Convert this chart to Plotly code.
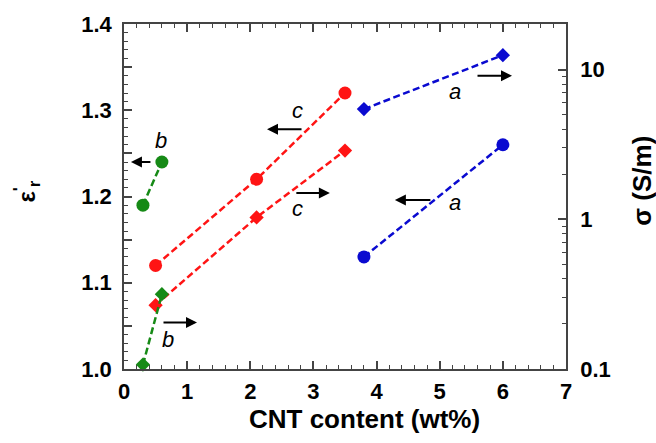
import plotly.graph_objects as go

# ---- data ----
cnt_a = [3.8, 6.0]
eps_a = [1.130, 1.260]
sig_a = [5.45, 12.5]

cnt_c = [0.5, 2.1, 3.5]
eps_c = [1.120, 1.220, 1.320]
sig_c = [0.267, 1.03, 2.88]

cnt_b = [0.3, 0.6]
eps_b = [1.190, 1.240]
sig_b = [0.107, 0.316]

y_ticks = [1.0, 1.05, 1.1, 1.15, 1.2, 1.25, 1.3, 1.35, 1.4]
y_ticklabels = ["1.0", "", "1.1", "", "1.2", "", "1.3", "", "1.4"]
y2_ticks = [0.1, 1, 10]
y2_ticklabels = ["0.1", "1", "10"]
y2_minor = [m * d for d in (0.1, 1) for m in range(2, 10)]

x_title = "CNT content (wt%)"
y_title = "ε<sup>'</sup><sub>r</sub>"
y2_title = "σ (S/m)"

BLUE = "#0a0ad0"
RED = "#ff1414"
GREEN = "#168a16"
AX = "#444444"
FONT = "Liberation Sans, Arial, sans-serif"
DASH = "7px,3.5px"

fig = go.Figure()

def add(x, y, color, symbol, size, yaxis):
    fig.add_trace(go.Scatter(
        x=x, y=y, mode="lines+markers", yaxis=yaxis,
        line=dict(color=color, width=2.5, dash=DASH),
        marker=dict(color=color, symbol=symbol, size=size, line=dict(width=0)),
        showlegend=False, cliponaxis=False))

add(cnt_a, eps_a, BLUE, "circle", 13, "y")
add(cnt_a, sig_a, BLUE, "diamond", 11, "y2")
add(cnt_c, eps_c, RED, "circle", 13, "y")
add(cnt_c, sig_c, RED, "diamond", 11, "y2")
add(cnt_b, eps_b, GREEN, "circle", 13, "y")
add(cnt_b, sig_b, GREEN, "diamond", 11, "y2")

# arrows (head position in data coords, tail offset in px)
arrows = [
    (0.11, 1.240, 21),
    (2.265, 1.278, 36),
    (3.26, 1.204, -35),
    (6.145, 1.340, -36),
    (4.29, 1.196, 37),
    (1.156, 1.054, -35),
]
for hx, hy, ax in arrows:
    fig.add_annotation(x=hx, y=hy, xref="x", yref="y", ax=ax, ay=0,
                       showarrow=True, arrowhead=2, arrowsize=1.1,
                       arrowwidth=2, arrowcolor="black", text="", standoff=0)

labels = [
    (0.586, 1.265, "b"),
    (2.74, 1.2997, "c"),
    (2.74, 1.186, "c"),
    (5.24, 1.322, "a"),
    (5.24, 1.193, "a"),
    (0.70, 1.034, "b"),
]
for lx, ly, t in labels:
    fig.add_annotation(x=lx, y=ly, xref="x", yref="y", text=f"<i>{t}</i>",
                       showarrow=False, font=dict(family=FONT, size=22, color="black"))

# axis titles
fig.add_annotation(x=0.545, y=-0.146, xref="paper", yref="paper", text=x_title,
                   xanchor="center", yanchor="middle",
                   showarrow=False, font=dict(family=FONT, size=26, weight="bold"))
fig.add_annotation(x=-0.219, y=0.515, xref="paper", yref="paper", text=y_title,
                   xanchor="center", yanchor="middle",
                   textangle=-90, showarrow=False,
                   font=dict(family=FONT, size=24, weight="bold"))
fig.add_annotation(x=1.172, y=0.546, xref="paper", yref="paper", text=y2_title,
                   xanchor="center", yanchor="middle",
                   textangle=-90, showarrow=False,
                   font=dict(family=FONT, size=26, weight="bold"))

fig.update_layout(
    width=656, height=443,
    margin=dict(l=124, r=90, t=14, b=74),
    paper_bgcolor="white", plot_bgcolor="white",
    font=dict(family=FONT, color="black"),
    xaxis=dict(
        range=[0, 7], dtick=1, tick0=0, showgrid=False, zeroline=False,
        showline=True, linecolor=AX, linewidth=1.5, mirror="ticks",
        ticks="inside", ticklen=8, tickwidth=1.5, tickcolor=AX,
        minor=dict(dtick=0.2, ticks="inside", ticklen=4, tickcolor=AX, tickwidth=1.2),
        tickfont=dict(family=FONT, size=22, weight="bold"),
        ticklabelstandoff=2,
    ),
    yaxis=dict(
        range=[1.0, 1.4], tickmode="array", tickvals=y_ticks, ticktext=y_ticklabels,
        showgrid=False, zeroline=False,
        showline=True, linecolor=AX, linewidth=1.5,
        ticks="inside", ticklen=8, tickwidth=1.5, tickcolor=AX,
        minor=dict(dtick=0.01, tick0=1.0, ticks="inside", ticklen=4, tickcolor=AX, tickwidth=1.2),
        tickfont=dict(family=FONT, size=22, weight="bold"),
        ticklabelstandoff=6,
    ),
    yaxis2=dict(
        overlaying="y", side="right", type="log", range=[-1, 1.305],
        tickmode="array", tickvals=y2_ticks, ticktext=y2_ticklabels,
        showgrid=False, zeroline=False,
        showline=True, linecolor=AX, linewidth=1.5,
        ticks="inside", ticklen=8, tickwidth=1.5, tickcolor=AX,
        minor=dict(tickmode="array", tickvals=y2_minor, ticks="inside", ticklen=4,
                   tickcolor=AX, tickwidth=1.2),
        tickfont=dict(family=FONT, size=22, weight="bold"),
        ticklabelstandoff=8,
    ),
)

fig.write_html("out.html")
